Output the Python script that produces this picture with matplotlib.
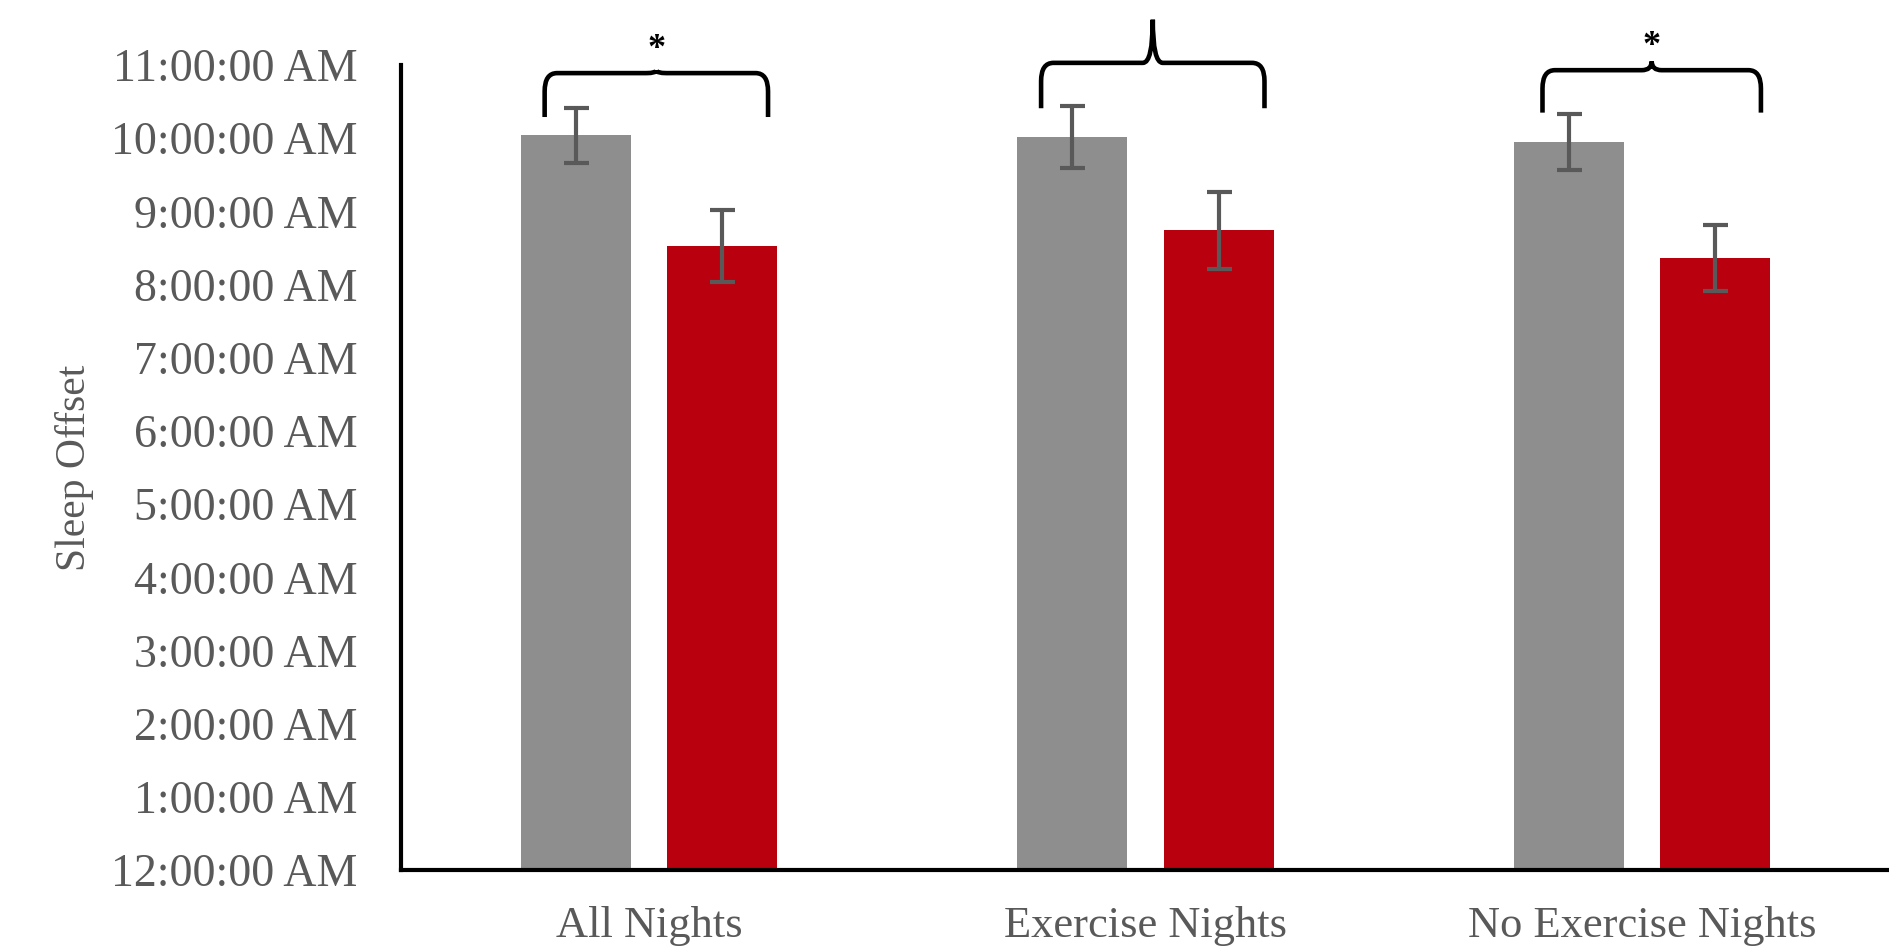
import matplotlib.pyplot as plt
from matplotlib.path import Path
from matplotlib.patches import PathPatch
import numpy as np

plt.rcParams['font.family'] = ['Liberation Serif', 'DejaVu Serif']

categories = ["All Nights", "Exercise Nights", "No Exercise Nights"]
# sleep offset in hours after midnight
gray_vals = [10.04, 10.02, 9.95]
gray_err = [0.38, 0.42, 0.38]
red_vals = [8.53, 8.74, 8.36]
red_err = [0.49, 0.53, 0.45]
hour_ticks = list(range(0, 12))
hour_labels = ["12:00:00 AM"] + ["%d:00:00 AM" % h for h in range(1, 12)]
# significance braces: (left x, right x, leg bottom, horizontal, tip, star)
braces = [
    (-0.21, 0.24, 10.29, 10.89, 10.93, "*"),
    (0.79, 1.24, 10.41, 11.03, 11.62, ""),
    (1.80, 2.24, 10.35, 10.93, 11.05, "*"),
]

fig = plt.figure(figsize=(18.9, 9.47), dpi=100)
ax = fig.add_axes([0.212, 0.0813, 0.788, 0.85])

x = np.arange(len(categories))
w = 0.222
err_kw = dict(ecolor="#595959", elinewidth=3, capsize=9, capthick=3)
ax.bar(x - 0.147, gray_vals, w, color="#8e8e8e", yerr=gray_err, error_kw=err_kw)
ax.bar(x + 0.148, red_vals, w, color="#b9000e", yerr=red_err, error_kw=err_kw)

ax.set_xlim(-0.5, 2.5)
ax.set_ylim(0, 11)
ax.set_yticks(hour_ticks)
ax.set_yticklabels(hour_labels)
ax.set_xticks(x)
ax.set_xticklabels(categories)
ax.tick_params(axis="both", length=0, labelcolor="#595959")
ax.tick_params(axis="y", pad=31, labelsize=33)
ax.tick_params(axis="x", pad=26, labelsize=32)
ax.set_ylabel("Sleep Offset", fontsize=30, color="#595959", labelpad=12)

for s in ["top", "right"]:
    ax.spines[s].set_visible(False)
for s in ["left", "bottom"]:
    ax.spines[s].set_linewidth(3)
    ax.spines[s].set_color("black")


def draw_brace(x0, x1, yb, yh, ytip):
    xm = (x0 + x1) / 2
    rx = 0.025
    ry = 0.25
    c = 0.02
    verts = [
        (x0, yb), (x0, yh - ry), (x0, yh), (x0 + rx, yh),
        (xm - c, yh), (xm, yh), (xm, ytip),
        (x1, yb), (x1, yh - ry), (x1, yh), (x1 - rx, yh),
        (xm + c, yh), (xm, yh), (xm, ytip),
    ]
    codes = [
        Path.MOVETO, Path.LINETO, Path.CURVE3, Path.CURVE3,
        Path.LINETO, Path.CURVE3, Path.CURVE3,
        Path.MOVETO, Path.LINETO, Path.CURVE3, Path.CURVE3,
        Path.LINETO, Path.CURVE3, Path.CURVE3,
    ]
    patch = PathPatch(Path(verts, codes), fill=False, lw=3.3, color="black",
                      clip_on=False, capstyle="butt", joinstyle="round")
    ax.add_patch(patch)


for x0, x1, yb, yh, ytip, star in braces:
    draw_brace(x0, x1, yb, yh, ytip)
    if star:
        ax.text((x0 + x1) / 2, yh + 0.32, star, ha="center", va="center",
                fontsize=26, fontweight="bold", color="black", clip_on=False)

fig.savefig("out.png", dpi=100)
